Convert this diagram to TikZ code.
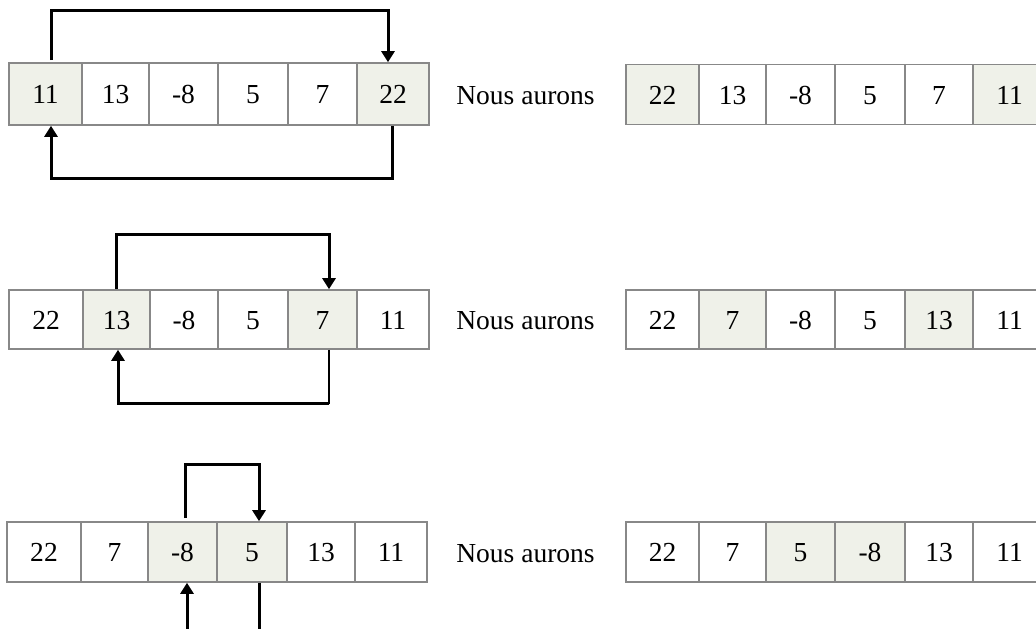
\documentclass[tikz,border=0pt]{standalone}
\usepackage{fontspec}
\setmainfont{Liberation Serif}
\usetikzlibrary{arrows.meta}
\definecolor{hl}{HTML}{EFF1E9}
\definecolor{bd}{HTML}{888888}
\tikzset{
  cell/.style={draw=bd, line width=1.6pt, inner sep=0pt, text height=19pt, text depth=0pt, font=\fontsize{27.5}{32}\selectfont},
  hcell/.style={cell, fill=hl},
  arr/.style={line width=3pt, -{Triangle[width=13pt,length=11pt]}},
  ln/.style={line width=3pt},
  thin ln/.style={line width=1.4pt},
  lbl/.style={font=\fontsize{27.5}{32}\selectfont, inner sep=0pt}
}
\begin{document}
\begin{tikzpicture}[x=1pt,y=-1pt]
\useasboundingbox (0,0) rectangle (1036,629);
\clip (0,0) rectangle (1036,629);
% ---------------- Row 1 ----------------
\foreach \n/\a/\b/\t/\s in {1/9/82/11/hcell,2/82/149/13/cell,3/149/218/-8/cell,4/218/288/5/cell,5/288/357/7/cell,6/357/429/22/hcell}{
  \node[\s, minimum width={\b-\a}, minimum height=62] (La\n) at ({(\a+\b)/2},94) {\t};
}
\foreach \n/\a/\b/\t/\s in {1/626/699/22/hcell,2/699/766/13/cell,3/766/835/-8/cell,4/835/905/5/cell,5/905/973/7/cell,6/973/1046/11/hcell}{
  \node[\s, minimum width={\b-\a}, minimum height=60] (Ra\n) at ({(\a+\b)/2},94.5) {\t};
}
\node[lbl] (Na) at (525.5,96) {Nous aurons};
\draw[arr] ([xshift=5.5pt,yshift=2pt]La1.north) -- ++(0,-50) -| ([xshift=-5pt]La6.north);
\draw[arr] ([xshift=-1pt]La6.south) -- ++(0,53) -| ([xshift=5.5pt]La1.south);
% ---------------- Row 2 ----------------
\foreach \n/\a/\b/\t/\s in {1/9/83/22/cell,2/83/150/13/hcell,3/150/218/-8/cell,4/218/288/5/cell,5/288/357/7/hcell,6/357/429/11/cell}{
  \node[\s, minimum width={\b-\a}, minimum height=59] (Lb\n) at ({(\a+\b)/2},319.5) {\t};
}
\foreach \n/\a/\b/\t/\s in {1/626/699/22/cell,2/699/766/7/hcell,3/766/835/-8/cell,4/835/905/5/cell,5/905/973/13/hcell,6/973/1046/11/cell}{
  \node[\s, minimum width={\b-\a}, minimum height=59] (Rb\n) at ({(\a+\b)/2},319.5) {\t};
}
\node[lbl] (Nb) at (525.5,321) {Nous aurons};
\draw[arr] ([xshift=-0.5pt]Lb2.north) -- ++(0,-55) -| ([xshift=6.5pt]Lb5.north);
\draw[thin ln] ([xshift=6.5pt]Lb5.south) -- ++(0,54) coordinate (b2);
\draw[arr] (b2) -| ([xshift=1.5pt]Lb2.south);
% ---------------- Row 3 ----------------
\foreach \n/\a/\b/\t/\s in {1/7/81/22/cell,2/81/148/7/cell,3/148/217/-8/hcell,4/217/287/5/hcell,5/287/355/13/cell,6/355/427/11/cell}{
  \node[\s, minimum width={\b-\a}, minimum height=60] (Lc\n) at ({(\a+\b)/2},552) {\t};
}
\foreach \n/\a/\b/\t/\s in {1/626/699/22/cell,2/699/766/7/cell,3/766/835/5/hcell,4/835/905/-8/hcell,5/905/973/13/cell,6/973/1046/11/cell}{
  \node[\s, minimum width={\b-\a}, minimum height=60] (Rc\n) at ({(\a+\b)/2},552) {\t};
}
\node[lbl] (Nc) at (525.5,554) {Nous aurons};
\draw[arr] ([xshift=2.5pt,yshift=3pt]Lc3.north) -- ++(0,-54) -| ([xshift=7pt]Lc4.north);
\coordinate (c1) at ([xshift=4.5pt]Lc3.south |- 0,640);
\coordinate (c2) at ([xshift=7pt]Lc4.south |- 0,640);
\draw[arr] (c1) -- ([xshift=4.5pt]Lc3.south);
\draw[ln] ([xshift=7pt]Lc4.south) -- (c2);
\end{tikzpicture}
\end{document}
